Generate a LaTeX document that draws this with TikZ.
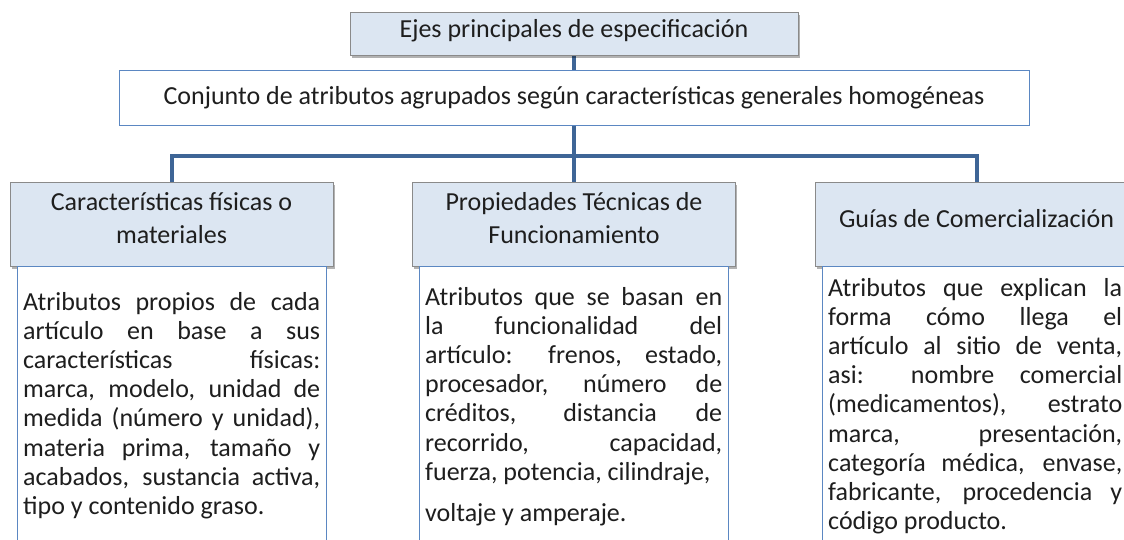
\documentclass[tikz,border=0pt]{standalone}
\usepackage{fontspec}
\setmainfont{Carlito}
\usetikzlibrary{shadows}
\definecolor{hdrfill}{HTML}{DCE6F2}
\definecolor{hdrdraw}{HTML}{8A8A8A}
\definecolor{boxblue}{HTML}{5B87C2}
\definecolor{conn}{HTML}{3E6596}
\definecolor{txt}{HTML}{1E1E1E}
\begin{document}
\begin{tikzpicture}[x=1pt,y=-1pt,
  every node/.style={text=txt},
  hdr/.style={draw=hdrdraw, fill=hdrfill, line width=0.9pt, inner sep=0pt,
    drop shadow={shadow xshift=1.5pt, shadow yshift=-2.5pt, opacity=0.3, fill=black}},
  secbox/.style={draw=boxblue, fill=white, line width=1pt, inner sep=0pt},
  tbox/.style={draw=boxblue, fill=white, line width=1pt, inner sep=0pt},
  conn/.style={draw=conn, line width=4.5pt},
  hfont/.style={font=\fontsize{26}{33}\selectfont, align=center, inner sep=0pt},
  body/.style={font=\fontsize{26}{29.2}\selectfont,
    execute at begin node={\hyphenpenalty=10000\relax\tolerance=9999\relax\emergencystretch=20pt\relax},
    text width=297pt, align=justify, inner sep=0pt, anchor=base west}
]
\useasboundingbox (0,0) rectangle (1124,539);
\clip (0,0) rectangle (1124,539);

% connectors (drawn first, nodes cover their ends)
\coordinate (jc) at (574,156);
\draw[conn] (574,40) -- (jc);
\draw[conn] (172,190) |- (jc) -| (977,190);
\draw[conn] (jc) -- (574,190);

% top
\node[hdr, minimum width=448pt, minimum height=43pt] (top) at (574,33.5) {};
\node[font=\fontsize{26}{30}\selectfont, inner sep=0pt] (topt) at ([yshift=3pt]top.center) {Ejes principales de especificación};
\node[secbox, minimum width=910pt, minimum height=55pt, font=\fontsize{26}{30}\selectfont] (sec) at (574,97.5) {Conjunto de atributos agrupados según características generales homogéneas};

% headers
\node[hdr, minimum width=323pt, minimum height=84pt] (h1) at (171.5,224) {};
\node[hdr, minimum width=323pt, minimum height=84pt] (h2) at (574,224) {};
\node[hdr, minimum width=323pt, minimum height=84pt] (h3) at (976.5,224) {};
\node[hfont] (h1t) at ([yshift=6pt]h1.center) {Características físicas o\\materiales};
\node[hfont] (h2t) at ([yshift=6pt]h2.center) {Propiedades Técnicas de\\Funcionamiento};
\node[hfont] (h3t) at ([yshift=5pt]h3.center) {Guías de Comercialización};

% text boxes
\node[tbox, minimum width=309pt, minimum height=300pt, anchor=north] (b1) at (171.5,266) {};
\node[tbox, minimum width=309pt, minimum height=300pt, anchor=north] (b2) at (573.5,266) {};
\node[tbox, minimum width=309pt, minimum height=300pt, anchor=north] (b3) at (976.5,266) {};

\node[body] (t1) at (23,310) {Atributos propios de cada\linebreak artículo en base a sus\linebreak características físicas:\linebreak marca, modelo, unidad de\linebreak medida (número y unidad),\linebreak materia prima, tamaño y\linebreak acabados, sustancia activa,\linebreak tipo y contenido graso.};
\node[body] (t2) at (425,305) {Atributos que se basan en\linebreak la funcionalidad del\linebreak artículo: frenos, estado,\linebreak procesador, número de\linebreak créditos, distancia de\linebreak recorrido, capacidad,\linebreak fuerza, potencia, cilindraje,\par\vspace{12pt}voltaje y amperaje.};
\node[body, text width=294pt] (t3) at (828,296) {Atributos que explican la\linebreak forma cómo llega el\linebreak artículo al sitio de venta,\linebreak asi: nombre comercial\linebreak (medicamentos), estrato\linebreak marca, presentación,\linebreak categoría médica, envase,\linebreak fabricante, procedencia y\linebreak código producto.};
\end{tikzpicture}
\end{document}
